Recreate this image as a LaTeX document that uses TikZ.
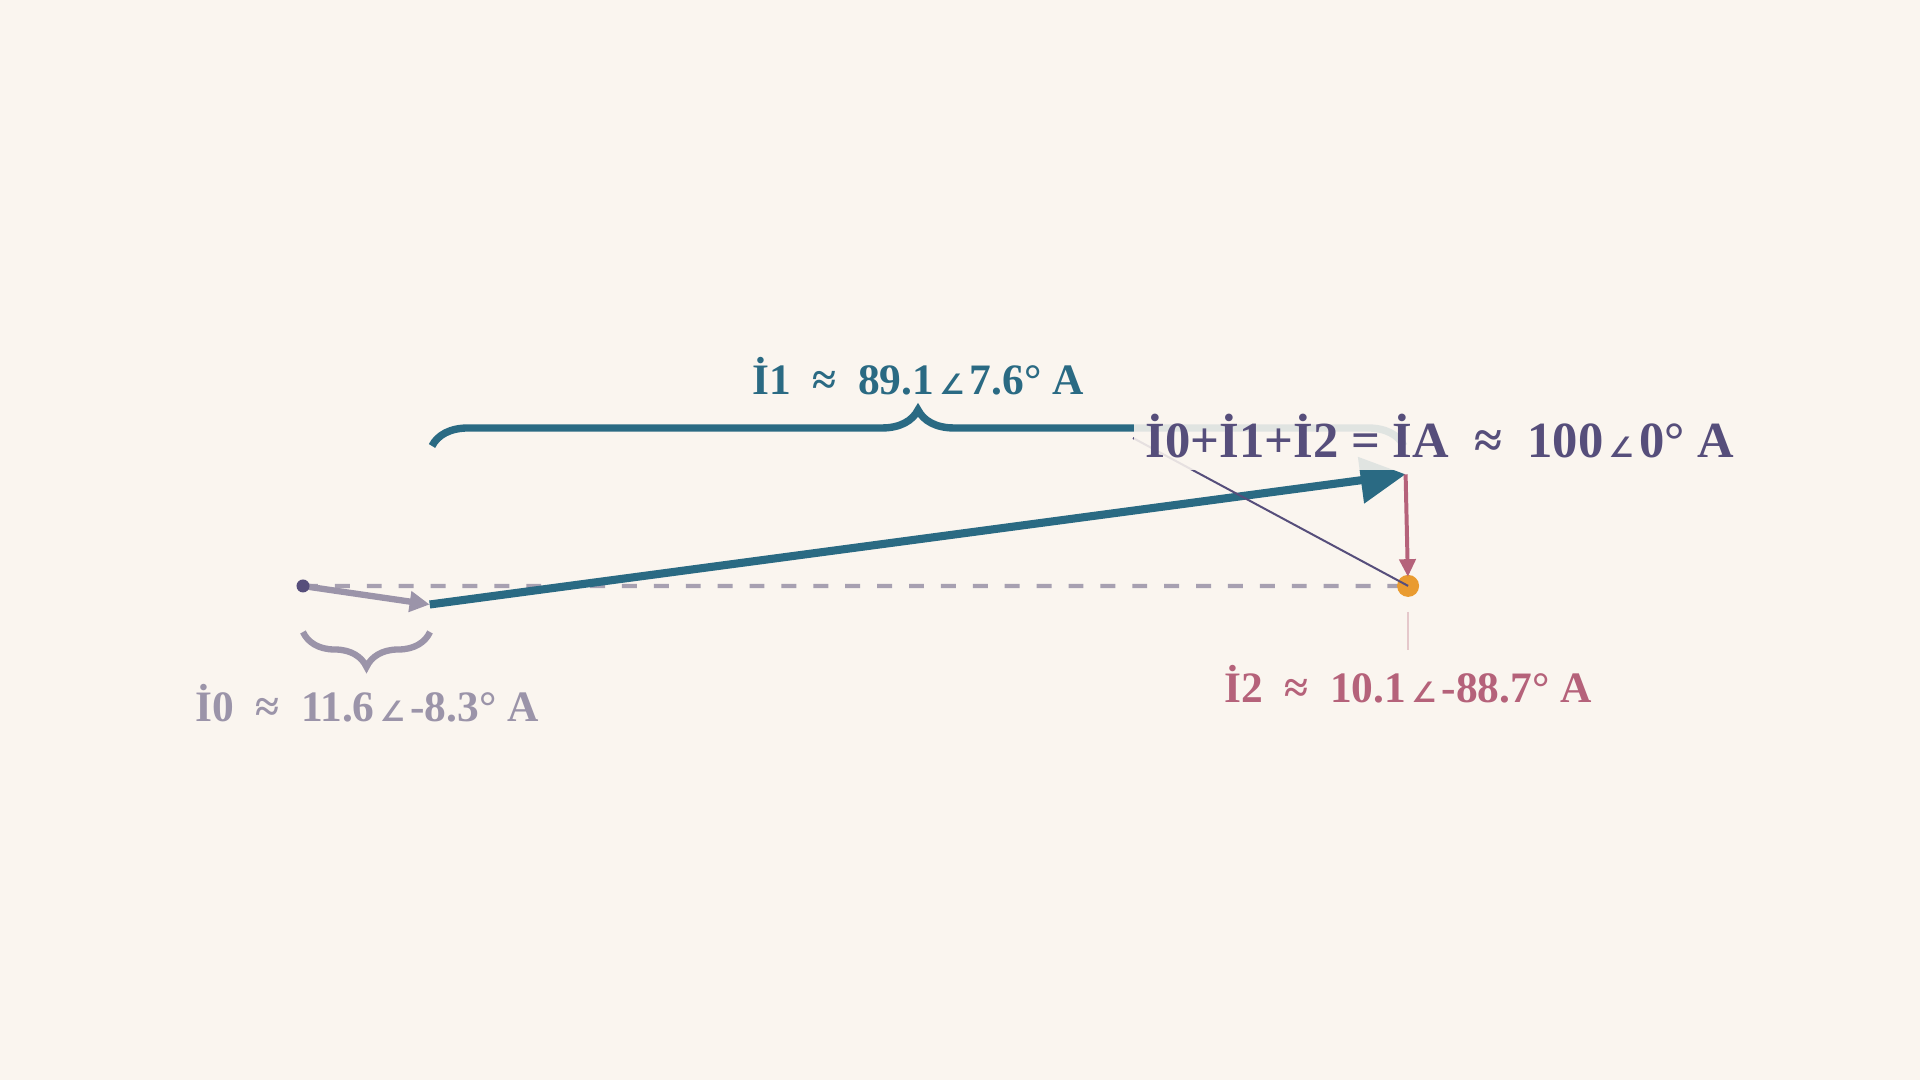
\documentclass[tikz,border=0pt]{standalone}
\usepackage{fontspec}
\setmainfont{Liberation Serif}
\newfontfamily\angfont{DejaVu Sans}
\usetikzlibrary{arrows.meta,decorations.pathreplacing}
\definecolor{bgc}{HTML}{FAF5EF}
\definecolor{teal1}{HTML}{2A6A83}
\definecolor{gray1}{HTML}{9B94A9}
\definecolor{purp}{HTML}{564E7B}
\definecolor{pink1}{HTML}{B5627A}
\definecolor{orng}{HTML}{E99B30}
\definecolor{dash1}{HTML}{A7A0B1}
\newcommand\angsym{\kern1.5pt{\angfont\fontsize{8}{8}\selectfont ∠}\kern1.5pt}
\begin{document}
\begin{tikzpicture}[x=0.01cm,y=-0.01cm,
  lbl/.style={font=\bfseries\fontsize{12.35}{14}\selectfont, inner sep=0.15cm, anchor=base},
  sumlbl/.style={font=\bfseries\fontsize{14.4}{16}\selectfont, text=purp, fill=bgc,
     fill opacity=0.88, text opacity=1, inner xsep=0.12cm, inner ysep=0.12cm, text depth=0pt, anchor=base west},
  bracestyle/.style={decorate, decoration={brace, amplitude=#1}},
  ptdot/.style={circle, inner sep=0pt, minimum size=#1}]
\useasboundingbox (0,0) rectangle (1920,1080);
\fill[bgc] (0,0) rectangle (1920,1080);
% coordinates
\coordinate (o) at (303,586);
\coordinate (p0) at (429.7,604.5);
\coordinate (p1) at (1405.6,474.3);
\coordinate (p2) at (1408.1,585.9);
\coordinate (b1l) at (432,446);
\coordinate (b1r) at (1404,446);
\coordinate (b0r) at (430,632);
\coordinate (b0l) at (303,632);
\coordinate (lead) at (1133,438);
\coordinate (i2top) at (1408,612);
% braces
\draw[teal1, line width=2.1pt, bracestyle=0.36cm] (b1l) -- (b1r);
\draw[gray1, line width=1.8pt, bracestyle=0.35cm] (b0r) -- (b0l);
% dashed reference line
\draw[dash1, line width=1.2pt, dash pattern=on 4.25pt off 4.82pt] (o) -- (p2);
\node[ptdot=0.22cm, fill=orng] (dot2) at (p2) {};
% I0
\draw[gray1, line width=1.8pt, -{Triangle[length=5.7pt,width=5.7pt]}] (o) -- (p0);
\node[ptdot=0.13cm, fill=purp] (dot0) at (o) {};
% I1
\draw[teal1, line width=2.3pt, -{Triangle[length=12.8pt,width=12.8pt]}] (p0) -- (p1);
% I2
\draw[pink1, line width=1.13pt, -{Triangle[length=5pt,width=4.6pt]}, shorten >=2.6pt] (p1) -- (dot2.center);
% leader to sum point
\draw[purp, line width=0.57pt] (lead) -- (dot2.center);
% labels
\node[sumlbl] (sum) at (1133,458) {İ0+İ1+İ2 = İA\enspace≈\enspace100\angsym0° A};
\node[lbl, text=teal1] (l1) at (918,395) {İ1\enspace≈\enspace89.1\angsym7.6° A};
\node[lbl, text=gray1] (l0) at (367,722) {İ0\enspace≈\enspace11.6\angsym-8.3° A};
\node[lbl, text=pink1] (l2) at (1408,703) {İ2\enspace≈\enspace10.1\angsym-88.7° A};
\draw[pink1, opacity=0.3, line width=0.5pt] (i2top) -- (l2.north);
\end{tikzpicture}
\end{document}
